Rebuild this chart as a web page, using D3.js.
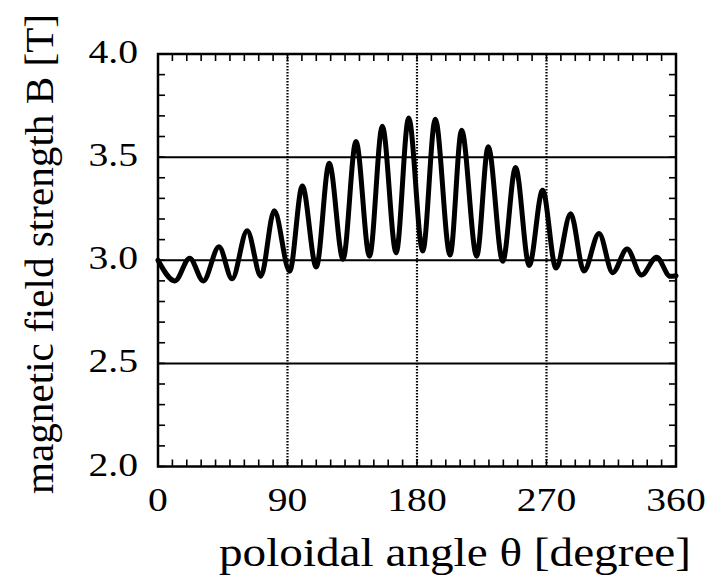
<!DOCTYPE html>
<html>
<head>
<meta charset="utf-8">
<script src="https://cdn.jsdelivr.net/npm/d3@7"></script>
<style>
  html, body { margin: 0; padding: 0; background: #fff; }
  svg { display: block; }
</style>
</head>
<body>
<svg id="chart" width="712" height="588"></svg>
<script>
// ---- data ----
const thetaDeg = [0, 11.8, 22, 31.5, 42.4, 51.5, 62, 71.5, 80.8, 91.5, 100.3, 110, 119, 128.6, 137.6, 147, 155.9, 165.5, 174.2, 184, 192.7, 203, 211, 221.5, 229.5, 239.6, 248.5, 258, 267.3, 276.6, 286.8, 296, 306.5, 316, 326, 336, 346.5, 356, 360];
const fieldB   = [3.00, 2.90, 3.01, 2.90, 3.065, 2.91, 3.143, 2.923, 3.24, 2.947, 3.36, 2.967, 3.47, 3.005, 3.576, 3.02, 3.65, 3.036, 3.69, 3.045, 3.684, 3.025, 3.63, 3.02, 3.55, 2.995, 3.45, 2.975, 3.34, 2.962, 3.225, 2.948, 3.13, 2.94, 3.055, 2.928, 3.015, 2.922, 2.925];
const xTickValues = [0, 90, 180, 270, 360];
const yTickValues = [2.0, 2.5, 3.0, 3.5, 4.0];
const xMinorStep = 10;
const yMinorStep = 0.1;
const xTitle = "poloidal angle  \u03B8 [degree]";
const yTitle = "magnetic field strength  B [T]";

// ---- layout ----
const FONT = "Liberation Serif";
const svg = d3.select("#chart");
const pL = 158, pR = 676, pT = 54, pB = 466.5;
const x = d3.scaleLinear().domain([0, 360]).range([pL, pR]);
const y = d3.scaleLinear().domain([2.0, 4.0]).range([pB, pT]);

const g = svg.append("g");

// horizontal solid grid lines
g.selectAll("line.hgrid").data(yTickValues.filter(v => v > 2.0 && v < 4.0)).join("line")
  .attr("class", "hgrid")
  .attr("x1", pL).attr("x2", pR)
  .attr("y1", d => y(d)).attr("y2", d => y(d))
  .attr("stroke", "#000").attr("stroke-width", 2);

// vertical dotted grid lines
g.selectAll("line.vgrid").data(xTickValues.filter(v => v > 0 && v < 360)).join("line")
  .attr("class", "vgrid")
  .attr("x1", d => x(d)).attr("x2", d => x(d))
  .attr("y1", pT).attr("y2", pB)
  .attr("stroke", "#000").attr("stroke-width", 2.2)
  .attr("stroke-dasharray", "1.6,1.4");

// minor ticks (inward) on all four sides
const xMinor = d3.range(0, 360 + 1e-9, xMinorStep);
const yMinor = d3.range(2.0, 4.0 + 1e-9, yMinorStep);
const tk = 7;
g.selectAll("line.xb").data(xMinor).join("line")
  .attr("x1", d => x(d)).attr("x2", d => x(d))
  .attr("y1", pB).attr("y2", pB - tk)
  .attr("stroke", "#000").attr("stroke-width", 1.6);
g.selectAll("line.xt").data(xMinor).join("line")
  .attr("x1", d => x(d)).attr("x2", d => x(d))
  .attr("y1", pT).attr("y2", pT + tk)
  .attr("stroke", "#000").attr("stroke-width", 1.6);
g.selectAll("line.yl").data(yMinor).join("line")
  .attr("x1", pL).attr("x2", pL + tk)
  .attr("y1", d => y(d)).attr("y2", d => y(d))
  .attr("stroke", "#000").attr("stroke-width", 1.6);
g.selectAll("line.yr").data(yMinor).join("line")
  .attr("x1", pR).attr("x2", pR - tk)
  .attr("y1", d => y(d)).attr("y2", d => y(d))
  .attr("stroke", "#000").attr("stroke-width", 1.6);

// frame
g.append("rect")
  .attr("x", pL).attr("y", pT)
  .attr("width", pR - pL).attr("height", pB - pT)
  .attr("fill", "none").attr("stroke", "#000").attr("stroke-width", 2.5);

// curve
const pts = thetaDeg.map((t, i) => [t, fieldB[i]]);
const line = d3.line().x(d => x(d[0])).y(d => y(d[1])).curve(d3.curveMonotoneX);
g.append("path").datum(pts)
  .attr("d", line)
  .attr("fill", "none").attr("stroke", "#000")
  .attr("stroke-width", 5).attr("stroke-linejoin", "round").attr("stroke-linecap", "round");

// tick labels
const stretch = 1.2;
const xl = svg.selectAll("text.xtl").data(xTickValues).join("text")
  .attr("class", "xtl")
  .attr("x", d => x(d)).attr("y", 511)
  .attr("text-anchor", "middle")
  .attr("font-family", FONT)
  .attr("font-size", 33)
  .text(d => d3.format("d")(d));
xl.each(function() { const L = this.getComputedTextLength(); d3.select(this).attr("textLength", L * stretch).attr("lengthAdjust", "spacingAndGlyphs"); });

const yl = svg.selectAll("text.ytl").data(yTickValues).join("text")
  .attr("class", "ytl")
  .attr("x", 138).attr("y", d => y(d) + 9)
  .attr("text-anchor", "end")
  .attr("font-family", FONT)
  .attr("font-size", 33)
  .text(d => d3.format(".1f")(d));
yl.each(function() { const L = this.getComputedTextLength(); d3.select(this).attr("textLength", L * stretch).attr("lengthAdjust", "spacingAndGlyphs"); });

// axis titles
svg.append("text")
  .attr("x", 455).attr("y", 566)
  .attr("text-anchor", "middle")
  .attr("font-family", FONT)
  .attr("font-size", 41)
  .attr("textLength", 472).attr("lengthAdjust", "spacingAndGlyphs")
  .text(xTitle);

svg.append("text")
  .attr("transform", "translate(53,254) rotate(-90)")
  .attr("text-anchor", "middle")
  .attr("font-family", FONT)
  .attr("font-size", 41)
  .attr("textLength", 480).attr("lengthAdjust", "spacingAndGlyphs")
  .text(yTitle);
</script>
</body>
</html>
